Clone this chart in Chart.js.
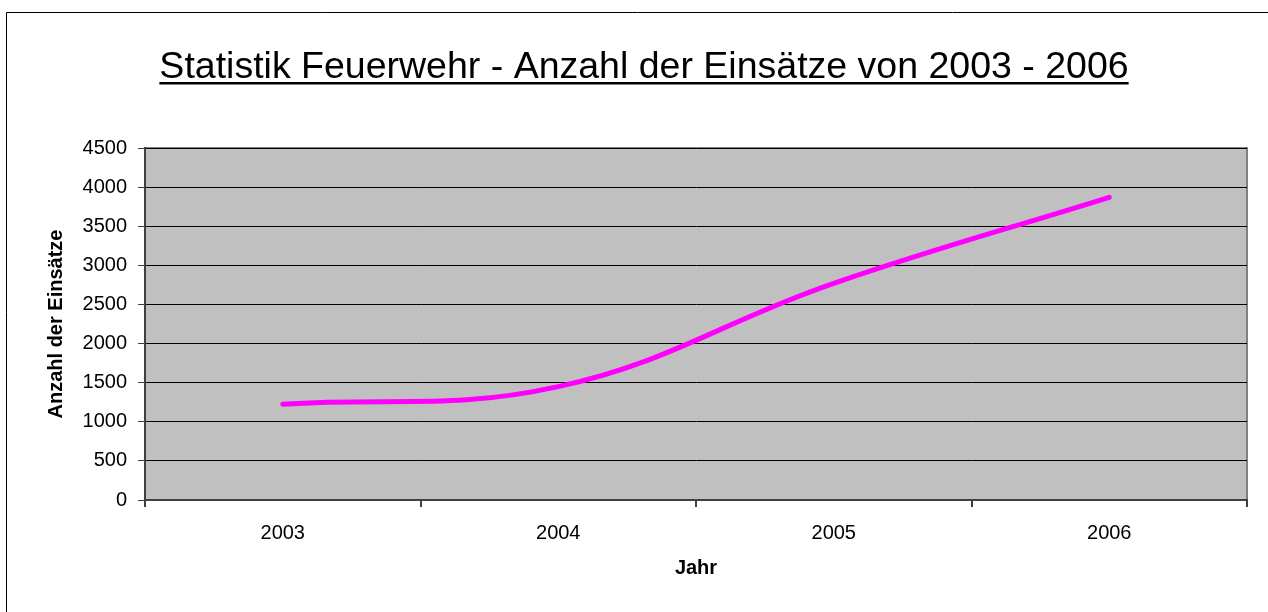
<!DOCTYPE html>
<html>
<head>
<meta charset="utf-8">
<script src="https://cdn.jsdelivr.net/npm/chart.js@4.4.0/dist/chart.umd.min.js"></script>
<style>
  body { margin: 0; background: #fff; }
</style>
</head>
<body>
<canvas id="myChart" width="1268" height="612"></canvas>
<script>
var jahre = ['2003', '2004', '2005', '2006'];
var einsaetze = [1225, 1450, 2770, 3870];
var titelText = 'Statistik Feuerwehr - Anzahl der Einsätze von 2003 - 2006';

// grey plot area, frame and underlined title
var rahmenPlugin = {
  id: 'rahmen',
  beforeDraw: function(chart) {
    var c = chart.ctx, a = chart.chartArea;
    c.save();
    c.fillStyle = '#C0C0C0';
    c.fillRect(a.left, a.top, a.right - a.left, a.bottom - a.top);
    c.strokeStyle = '#808080';
    c.lineWidth = 2;
    c.strokeRect(a.left, a.top, a.right - a.left, a.bottom - a.top);
    // outer frame (only left and top edges visible)
    c.strokeStyle = '#000';
    c.lineWidth = 1;
    c.beginPath();
    c.moveTo(6.5, 612);
    c.lineTo(6.5, 12.5);
    c.lineTo(1268, 12.5);
    c.stroke();
    c.restore();
  },
  afterDraw: function(chart) {
    var c = chart.ctx;
    c.save();
    c.font = '37.5px "Liberation Sans", Arial, sans-serif';
    c.fillStyle = '#000';
    c.textAlign = 'center';
    c.textBaseline = 'alphabetic';
    var cx = 644, by = 78;
    c.fillText(titelText, cx, by);
    var w = c.measureText(titelText).width;
    c.fillRect(cx - w / 2, by + 4, w, 2.5);
    c.restore();
  }
};

var ctx = document.getElementById('myChart');
var chart = new Chart(ctx, {
  type: 'line',
  data: {
    labels: jahre,
    datasets: [{
      label: 'Einsätze',
      data: einsaetze,
      borderColor: '#FF00FF',
      borderWidth: 5,
      borderCapStyle: 'round',
      tension: 0.4,
      pointRadius: 0,
      fill: false
    }]
  },
  options: {
    responsive: false,
    animation: false,
    devicePixelRatio: 1,
    layout: { padding: { left: 0, right: 21, top: 148, bottom: 0 } },
    plugins: {
      legend: { display: false },
      tooltip: { enabled: false },
      title: { display: false }
    },
    scales: {
      x: {
        offset: true,
        grid: { offset: true, drawOnChartArea: false, drawTicks: true, tickLength: 7, tickColor: '#404040', lineWidth: 2 },
        border: { color: '#404040', width: 2 },
        ticks: { color: '#000', padding: 14, font: { family: '"Liberation Sans", Arial', size: 20 } },
        title: { display: true, text: 'Jahr', color: '#000', padding: { top: 0, bottom: 32 },
                 font: { family: '"Liberation Sans", Arial', size: 20, weight: 'bold', lineHeight: 1.2 } },
        afterFit: function(s) { s.height = 112; }
      },
      y: {
        min: 0, max: 4500,
        ticks: { stepSize: 500, color: '#000', padding: 11,
                 font: { family: '"Liberation Sans", Arial', size: 20 },
                 callback: function(v) { return String(v); } },
        grid: { color: '#000', lineWidth: 1, tickLength: 7, tickColor: '#404040' },
        border: { color: '#404040', width: 2 },
        title: { display: true, text: 'Anzahl der Einsätze', color: '#000', padding: { top: 44, bottom: 0 },
                 font: { family: '"Liberation Sans", Arial', size: 20, weight: 'bold', lineHeight: 1.2 } },
        afterFit: function(s) { s.width = 145; }
      }
    }
  },
  plugins: [rahmenPlugin]
});
</script>
</body>
</html>
